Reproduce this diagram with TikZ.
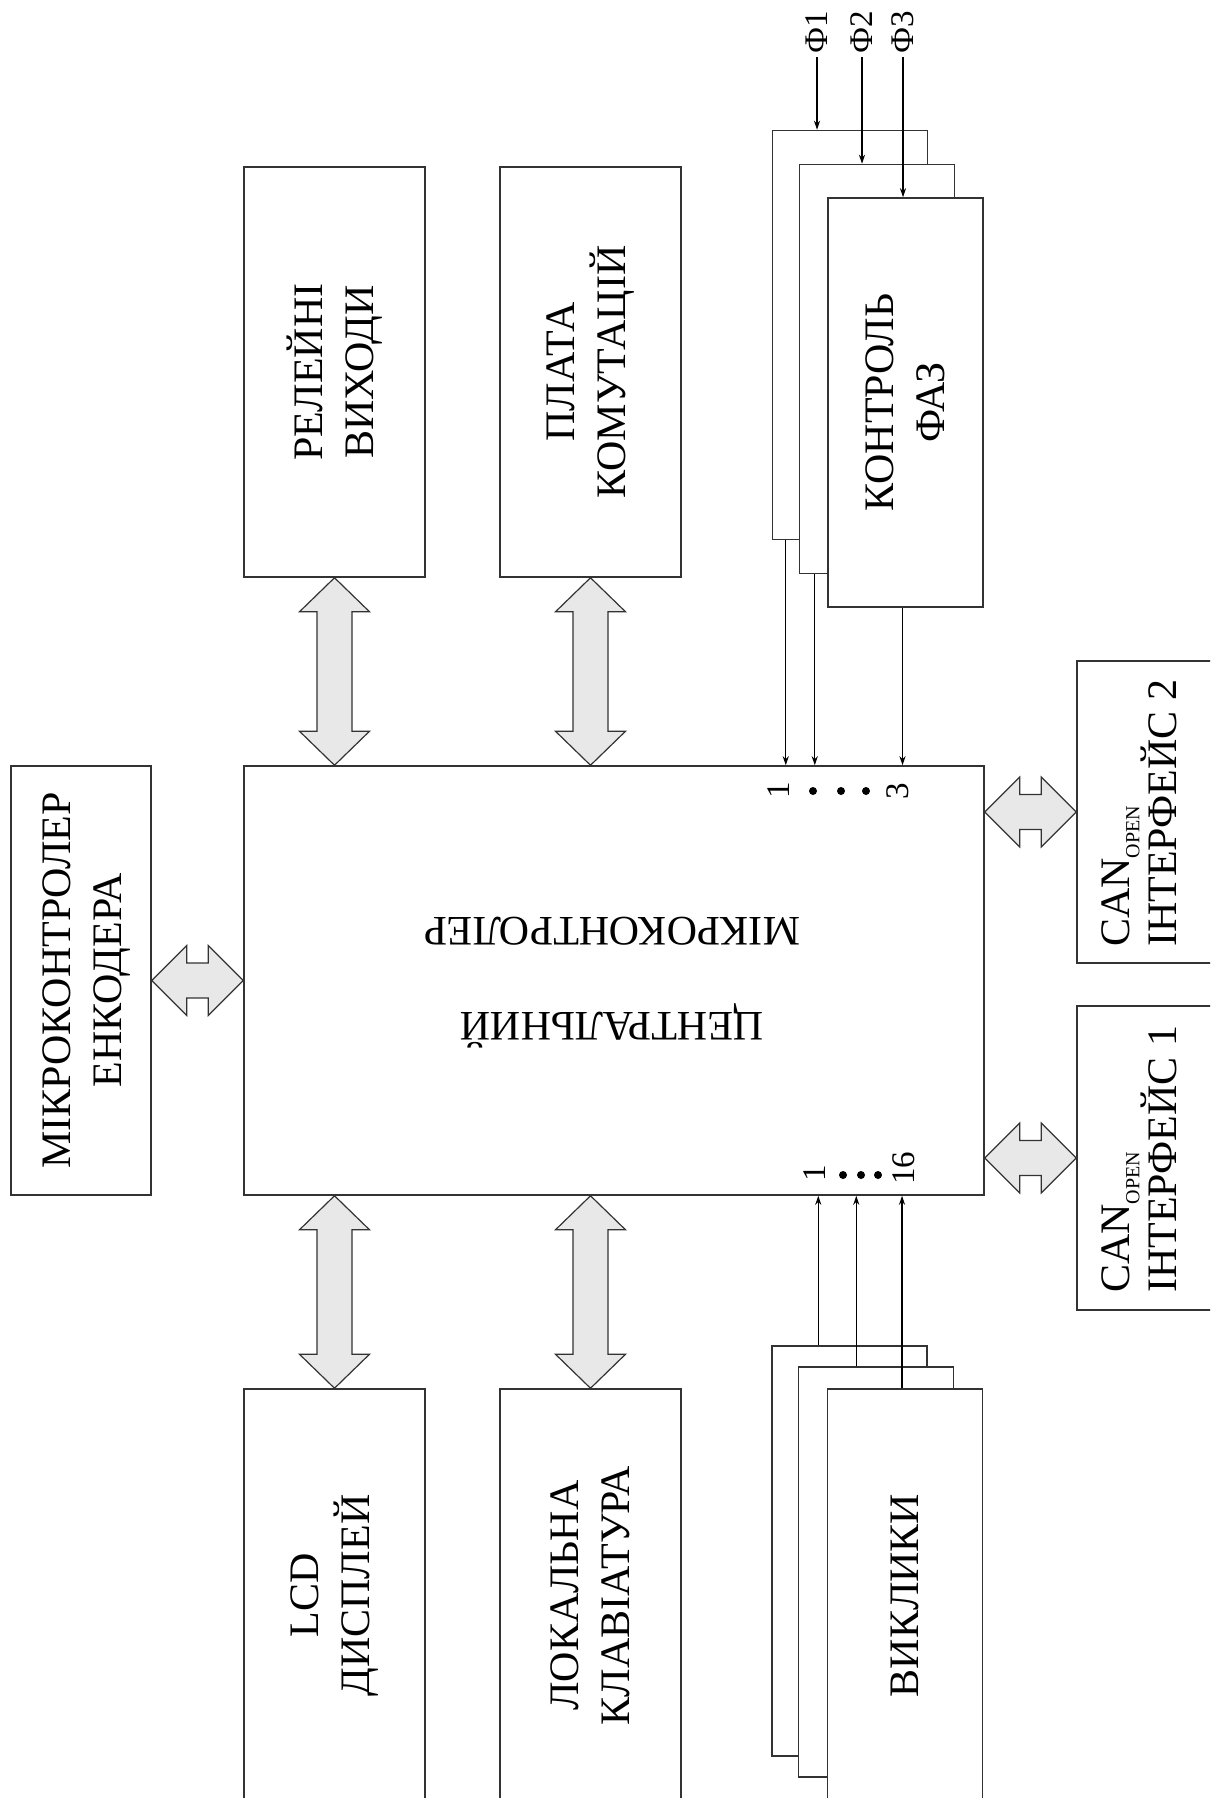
\documentclass[tikz,border=0pt]{standalone}
\usepackage{fontspec}
\setmainfont{Liberation Serif}
\usetikzlibrary{positioning, calc, arrows.meta}

\tikzset{
    blok/.style={draw=black!80, line width=1.5pt, fill=white, inner sep=0pt},
    napys/.style={rotate=90, align=center, inner sep=0pt, font=\fontsize{42}{51}\selectfont},
    fnapys/.style={rotate=90, inner sep=0pt, font=\fontsize{33}{33}\selectfont},
    nomer/.style={rotate=90, inner sep=0pt, font=\fontsize{33}{33}\selectfont},
    krapka/.style={circle, fill=black, inner sep=0pt, minimum size=8pt},
    lin/.style={line width=1.1pt, -{Stealth[length=9pt, width=6pt]}},
    shyna/.style={draw=black!80, line width=1.2pt, fill=black!9, line join=miter},
}

% double block arrows: vertical (top tip, bottom tip) and horizontal (left tip, right tip)
\newcommand{\vshyna}[2]{%
    \draw[shyna] (#1) -- ++(35,34) -- ++(-17.5,0) -- ($(#2)+(17.5,-34)$) -- ++(17.5,0)
        -- (#2) -- ++(-35,-34) -- ++(17.5,0) -- ($(#1)+(-17.5,34)$) -- ++(-17.5,0) -- cycle;}
\newcommand{\hshyna}[2]{%
    \draw[shyna] (#1) -- ++(35,-35) -- ++(0,17.5) -- ($(#2)+(-35,-17.5)$) -- ++(0,-17.5)
        -- (#2) -- ++(-35,35) -- ++(0,-17.5) -- ($(#1)+(35,17.5)$) -- ++(0,17.5) -- cycle;}

\begin{document}
\begin{tikzpicture}[x=1pt, y=-1pt]
        \useasboundingbox (0,0) rectangle (1210,1798);
        \clip (0,0) rectangle (1210,1798);

        % main blocks
        \node[blok, minimum width=740pt, minimum height=429pt] (cpu) at (614,980.5) {};
        \node[blok, minimum width=140pt, minimum height=429pt] (enk) at (81,980.5) {};
        \node[blok, minimum width=181pt, minimum height=410pt] (rele) at (334.5,372) {};
        \node[blok, minimum width=181pt, minimum height=410pt] (plata) at (590.5,372) {};
        \node[blok, minimum width=181pt, minimum height=413pt] (lcd) at (334.5,1595.5) {};
        \node[blok, minimum width=181pt, minimum height=413pt] (klav) at (590.5,1595.5) {};
        \node[blok, minimum width=160pt, minimum height=302pt] (can2) at (1157,812) {};
        \node[blok, minimum width=160pt, minimum height=304pt] (can1) at (1157,1158) {};

        % phase control, three sheets
        \node[blok, minimum width=155pt, minimum height=409pt] (faza1) at (850,335) {};
        \node[blok, minimum width=155pt, minimum height=409pt] (faza2) at (877,369) {};
        \node[blok, minimum width=155pt, minimum height=409pt] (faza3) at (905.5,402.5) {};

        % calls, three sheets
        \node[blok, minimum width=155pt, minimum height=410pt] (vykl1) at (849.5,1551) {};
        \node[blok, minimum width=155pt, minimum height=410pt] (vykl2) at (876,1572) {};
        \node[blok, minimum width=155pt, minimum height=413pt] (vykl3) at (905,1595.5) {};

        % texts
        \node[rotate=180, anchor=base, inner sep=0pt, font=\fontsize{42}{42}\selectfont]
            (t-cpu2) at (612,917) {МІКРОКОНТРОЛЕР};
        \node[rotate=180, anchor=base, inner sep=0pt, font=\fontsize{42}{42}\selectfont]
            (t-cpu1) at (612,1012) {ЦЕНТРАЛЬНИЙ};
        \node[napys] (t-enk) at ([xshift=6pt]enk.center) {МІКРОКОНТРОЛЕР\\ЕНКОДЕРА};
        \node[napys] (t-rele) at (rele) {РЕЛЕЙНІ\\ВИХОДИ};
        \node[napys] (t-plata) at (plata) {ПЛАТА\\КОМУТАЦІЙ};
        \node[napys] (t-faza) at (faza3) {КОНТРОЛЬ\\ФАЗ};
        \node[napys] (t-lcd) at (lcd) {LCD\\ДИСПЛЕЙ};
        \node[napys] (t-klav) at (klav) {ЛОКАЛЬНА\\КЛАВІАТУРА};
        \node[napys] (t-vykl) at (vykl3) {ВИКЛИКИ};
        \node[napys, align=left, anchor=west, font=\fontsize{42}{45}\selectfont] (t-can2) at (1139,947)
            {CAN\raisebox{-10pt}{\fontsize{20}{20}\selectfont OPEN}\\ІНТЕРФЕЙС 2};
        \node[napys, align=left, anchor=west, font=\fontsize{42}{45}\selectfont] (t-can1) at (1139,1293)
            {CAN\raisebox{-10pt}{\fontsize{20}{20}\selectfont OPEN}\\ІНТЕРФЕЙС 1};

        % block arrows
        \vshyna{rele.south}{rele.south |- cpu.north}
        \vshyna{plata.south}{plata.south |- cpu.north}
        \vshyna{lcd.north |- cpu.south}{lcd.north}
        \vshyna{klav.north |- cpu.south}{klav.north}
        \hshyna{enk.east}{cpu.west}
        \hshyna{can2.west -| cpu.east}{can2.west}
        \hshyna{can1.west -| cpu.east}{can1.west}

        % phase inputs
        \node[fnapys, anchor=west] (f1) at (817,54) {Ф1};
        \node[fnapys, anchor=west] (f2) at (862,54) {Ф2};
        \node[fnapys, anchor=west] (f3) at (903,54) {Ф3};
        \draw[lin, shorten <=3pt] (f1.west) -- (f1.west |- faza1.north);
        \draw[lin, shorten <=3pt] (f2.west) -- (f2.west |- faza2.north);
        \draw[lin, shorten <=3pt] (f3.west) -- (f3.west |- faza3.north);

        % phase outputs to cpu
        \coordinate (k1) at ([xshift=14pt]faza1.south west);
        \coordinate (k2) at ([xshift=16pt]faza2.south west);
        \coordinate (k3) at ([xshift=-3pt]faza3.south);
        \draw[lin] (k1) -- (k1 |- cpu.north);
        \draw[lin] (k2) -- (k2 |- cpu.north);
        \draw[lin] (k3) -- (k3 |- cpu.north);

        % calls to cpu
        \coordinate (w1) at ([xshift=47pt]vykl1.north west);
        \coordinate (w2) at ([xshift=58.5pt]vykl2.north west);
        \coordinate (w3) at ([xshift=-3pt]vykl3.north);
        \draw[lin] (w1) -- (w1 |- cpu.south);
        \draw[lin] (w2) -- (w2 |- cpu.south);
        \draw[lin] (w3) -- (w3 |- cpu.south);

        % input numbering
        \node[nomer] (n1) at (779,790) {1};
        \foreach \x [count=\i] in {813,841,866}
            \node[krapka] (d\i) at (\x,791) {};
        \node[nomer] (n3) at (898,791) {3};
        \node[nomer] (m1) at (815,1173) {1};
        \foreach \x [count=\i from 4] in {843,861,878}
            \node[krapka] (d\i) at (\x,1175) {};
        \node[nomer] (m16) at (904,1168) {16};
    \end{tikzpicture}
\end{document}
